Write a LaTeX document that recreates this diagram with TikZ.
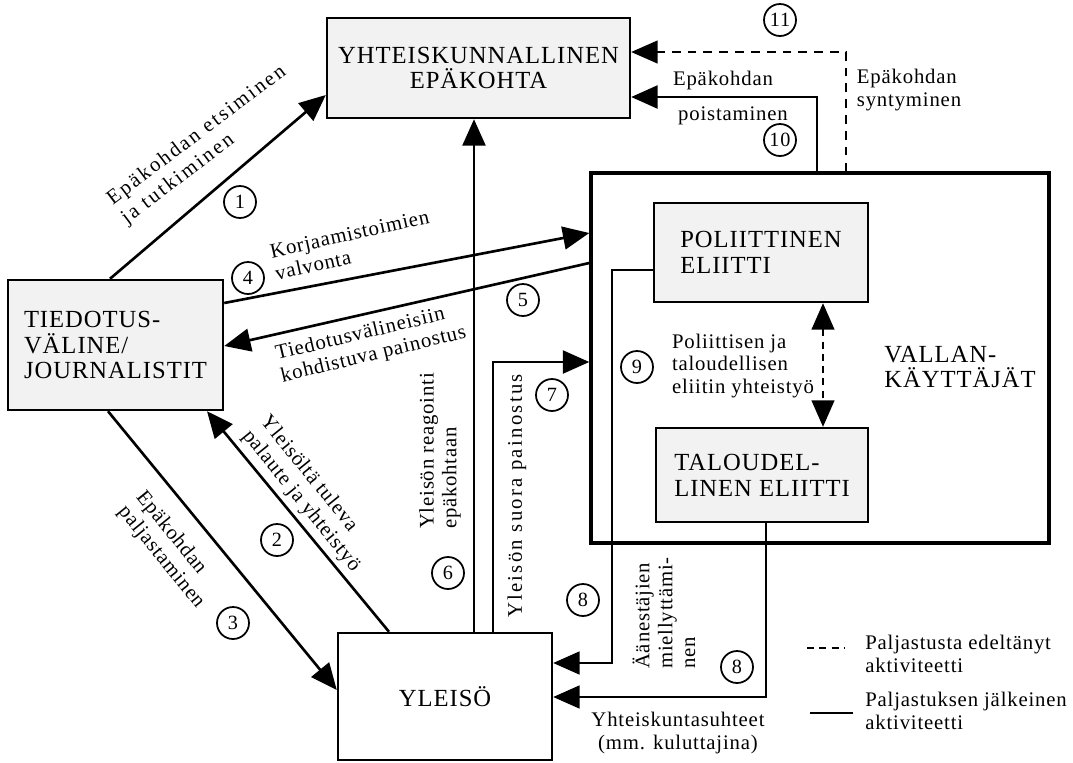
\documentclass[tikz,border=0pt]{standalone}
\usepackage{fontspec}
\setmainfont{Liberation Serif}[LetterSpace=4]
\newfontfamily\widefont{Liberation Serif}[LetterSpace=11]
\usetikzlibrary{arrows.meta}
\begin{document}
\begin{tikzpicture}[x=0.02cm,y=-0.02cm]
\tikzstyle{box}=[draw,line width=1.4pt,fill=black!5,align=center,inner sep=0pt,font=\fontsize{14}{14.7}\selectfont];
\tikzstyle{num}=[circle,draw,line width=1pt,minimum size=0.64cm,inner sep=0pt,font=\fontsize{11.5}{12}\selectfont];
\tikzstyle{txt}=[align=left,inner sep=0pt,font=\fontsize{11.8}{13}\selectfont];
\tikzstyle{wtxt}=[txt,font=\fontsize{11.8}{13.5}\selectfont\widefont];
\tikzstyle{act}=[line width=1.5pt,-{Triangle[length=15pt,width=13pt]}];
\tikzstyle{pre}=[act,line width=0.8pt,dash pattern=on 5pt off 4pt];
\useasboundingbox (0,0) rectangle (1073,762);

\node [box,minimum width=6.06cm,minimum height=2cm] (yht) at (478.5,68) {YHTEISKUNNALLINEN\\EPÄKOHTA};
\node [box,align=left,minimum width=4.3cm,minimum height=2.6cm] (tie) at (115.5,345) {TIEDOTUS-\\VÄLINE/\\JOURNALISTIT};
\node [box,fill=white,minimum width=4.28cm,minimum height=2.54cm] (yle) at (445,696.5) {YLEISÖ};
\node [box,fill=none,line width=2pt,minimum width=9.16cm,minimum height=7.4cm] (val) at (820,358) {};
\node [box,align=left,minimum width=4.28cm,minimum height=1.98cm] (pol) at (761,252.5) {POLIITTINEN\\ELIITTI};
\node [box,align=left,minimum width=4.24cm,minimum height=1.88cm] (tal) at (762,475) {TALOUDEL-\\LINEN ELIITTI};
\node [txt,anchor=west,font=\fontsize{14}{14.7}\selectfont] (vtxt) at (884,367) {VALLAN-\\KÄYTTÄJÄT};

% yhteydet
\draw [act] (tie.north -| 110,0) -- (yht.west |- 0,95);
\draw [act] (tie.east |- 0,303) -- (val.west |- 0,233);
\draw [act] (val.west |- 0,263) -- (tie.east |- 0,346);
\draw [act] (yle.north -| 389,0) -- (tie.south -| 207,0);
\draw [act] (tie.south -| 108,0) -- (yle.west |- 0,690);
\draw [act] (yle.north -| 474,0) -- (yht.south -| 474,0);
\draw [act] (yle.north -| 493,0) |- (val.west |- 0,362);
\draw [act,line width=1.2pt] (pol.west |- 0,270) -- (612,270) |- (yle.east |- 0,663);
\draw [act,line width=1.2pt] (tal.south -| 766,0) |- (yle.east |- 0,697);
\draw [act] (val.north -| 817,0) |- (yht.east |- 0,97);
\draw [pre] (val.north -| 846,0) |- (yht.east |- 0,52);
\draw [pre,dash pattern=on 4pt off 3pt,{Triangle[length=15pt,width=13pt]}-{Triangle[length=15pt,width=13pt]}] (pol.south -| 823,0) -- (tal.north -| 823,0);

% tekstit
\node [wtxt,rotate=37] (l1) at (204,145) {Epäkohdan etsiminen\\ja tutkiminen};
\node [txt,rotate=12.5] (l4) at (352,245) {Korjaamistoimien\\valvonta};
\node [txt,rotate=13.5] (l5) at (371,344) {Tiedotusvälineisiin\\kohdistuva painostus};
\node [txt,rotate=-51] (l2) at (310,494) {Yleisöltä tuleva\\palaute ja yhteistyö};
\node [txt,rotate=-51] (l3) at (170,550) {Epäkohdan\\paljastaminen};
\node [txt,rotate=90] (l6) at (440,451) {Yleisön reagointi\\epäkohtaan};
\node [wtxt,rotate=90] (l7) at (517,496) {Yleisön suora painostus};
\node [txt,rotate=90] (l8) at (664,613) {Äänestäjien\\miellyttämi-\\nen};
\node [txt,align=center] (l8b) at (678,733) {Yhteiskuntasuhteet\\(mm. kuluttajina)};
\node [txt] (l9) at (743,366) {Poliittisen ja\\taloudellisen\\eliitin yhteistyö};
\node [txt] (l10a) at (723,81) {Epäkohdan};
\node [txt] (l10b) at (733,116) {poistaminen};
\node [txt] (l11) at (909,90) {Epäkohdan\\syntyminen};

\node [num] (c1) at (240,202) {1};
\node [num] (c2) at (277,540) {2};
\node [num] (c3) at (233,623) {3};
\node [num] (c4) at (248,278) {4};
\node [num] (c5) at (523,300) {5};
\node [num] (c6) at (448,573) {6};
\node [num] (c7) at (552,395) {7};
\node [num] (c8a) at (583,600) {8};
\node [num] (c8b) at (737,667) {8};
\node [num] (c9) at (637,367) {9};
\node [num] (c10) at (780,140) {10};
\node [num] (c11) at (780,20) {11};

% selite
\draw [line width=1.2pt,dash pattern=on 4pt off 3pt] (807,648) -- (845,648);
\draw [line width=1.5pt] (810,713) -- (853,713);
\node [txt,anchor=west] (lg1) at (865,654) {Paljastusta edeltänyt\\aktiviteetti};
\node [txt,anchor=west] (lg2) at (865,711) {Paljastuksen jälkeinen\\aktiviteetti};
\end{tikzpicture}
\end{document}
